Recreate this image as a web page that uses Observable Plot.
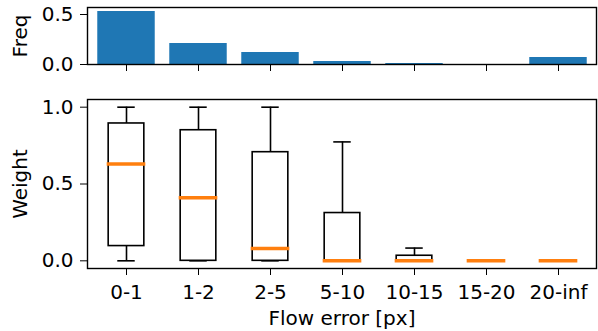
<!DOCTYPE html>
<html><head>
<meta charset="utf-8">
<script src="https://cdn.jsdelivr.net/npm/d3@7"></script>
<script src="https://cdn.jsdelivr.net/npm/@observablehq/plot@0.6"></script>
<style>
body{margin:0;background:#fff}
#chart{width:598px;height:331px;position:relative}
#chart svg{display:block;max-width:none}
#chart svg text{font-size:20px;font-family:'DejaVu Sans',sans-serif;fill:#000}
</style>
</head><body><div id="chart"></div>
<script>
const categories = ["0-1","1-2","2-5","5-10","10-15","15-20","20-inf"];
const freq = [0.53, 0.21, 0.12, 0.03, 0.01, 0.0, 0.07];
const whiskerLow = [0, 0, 0, 0, 0, 0, 0];
const q1 = [0.096, 0, 0, 0, 0, 0, 0];
const median = [0.63, 0.41, 0.08, 0, 0, 0, 0];
const q3 = [0.894, 0.85, 0.707, 0.311, 0.033, 0, 0];
const whiskerHigh = [1, 1, 1, 0.774, 0.083, 0, 0];
const freqTicks = [0, 0.5];
const weightTicks = [0, 0.5, 1.0];

const rows = categories.map((c, i) => ({
  cat: c, freq: freq[i], lo: whiskerLow[i], q1: q1[i], med: median[i], q3: q3[i], hi: whiskerHigh[i]
}));

const W = 598, ML = 87, MR = 2;
const band = (W - ML - MR) / categories.length;
const boxInset = (band - band * 0.5) / 2;
const capInset = (band - band * 0.25) / 2;
const barInset = (band - band * 0.8) / 2;
const FONT = "'DejaVu Sans', sans-serif";
const style = {fontFamily: FONT, fontSize: "20px", color: "black", background: "white", overflow: "visible"};
const fmt = d3.format(".1f");
const ax = {fontSize: 20, fontFamily: FONT, labelArrow: false, tickSize: 7};

const topPlot = Plot.plot({
  width: W, height: 85, marginLeft: ML, marginRight: MR, marginTop: 7, marginBottom: 21,
  style,
  x: {type: "band", domain: categories, padding: 0},
  y: {domain: [0, 0.57]},
  marks: [
    Plot.barY(rows, {x: "cat", y: "freq", fill: "#1f77b4", insetLeft: barInset, insetRight: barInset}),
    Plot.frame({stroke: "black", strokeWidth: 1.4}),
    Plot.axisX({...ax, tickFormat: () => "", label: null}),
    Plot.axisY({...ax, ticks: freqTicks, tickFormat: fmt, tickPadding: 7, label: "Freq", labelAnchor: "center", labelOffset: 75})
  ]
});

const botPlot = Plot.plot({
  width: W, height: 246, marginLeft: ML, marginRight: MR, marginTop: 14, marginBottom: 63,
  style,
  x: {type: "band", domain: categories, padding: 0},
  y: {domain: [-0.05, 1.05]},
  marks: [
    Plot.ruleX(rows, {x: "cat", y1: "q3", y2: "hi", stroke: "black", strokeWidth: 1.6}),
    Plot.ruleX(rows, {x: "cat", y1: "lo", y2: "q1", stroke: "black", strokeWidth: 1.6}),
    Plot.tickY(rows, {x: "cat", y: "hi", stroke: "black", strokeWidth: 1.6, insetLeft: capInset, insetRight: capInset}),
    Plot.tickY(rows, {x: "cat", y: "lo", stroke: "black", strokeWidth: 1.6, insetLeft: capInset, insetRight: capInset}),
    Plot.barY(rows, {x: "cat", y1: "q1", y2: "q3", fill: "white", stroke: "black", strokeWidth: 1.6, insetLeft: boxInset, insetRight: boxInset}),
    Plot.tickY(rows, {x: "cat", y: "med", stroke: "#ff7f0e", strokeWidth: 3.5, insetLeft: boxInset - 1.5, insetRight: boxInset - 1.5}),
    Plot.frame({stroke: "black", strokeWidth: 1.4}),
    Plot.axisX({...ax, tickPadding: 9, label: "Flow error [px]", labelAnchor: "center", labelOffset: 56}),
    Plot.axisY({...ax, ticks: weightTicks, tickFormat: fmt, tickPadding: 7, label: "Weight", labelAnchor: "center", labelOffset: 75})
  ]
});

const el = document.getElementById("chart");
el.append(topPlot, botPlot);
</script>
</body></html>
